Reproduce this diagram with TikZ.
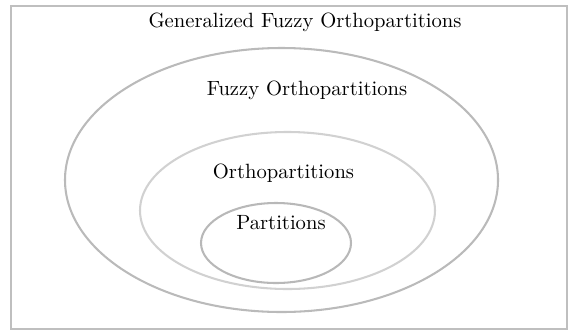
\documentclass[tikz,border=0pt]{standalone}
\begin{document}
\begin{tikzpicture}[x=0.485pt,y=-0.485pt,
  setline/.style={line width=1pt},
  lbl/.style={inner sep=0pt, font=\fontsize{10}{12}\selectfont}]
\useasboundingbox (0,0) rectangle (578,332);
\draw[setline, draw=black!25] (11,6) rectangle (567,329) coordinate (frame);
\draw[setline, draw=black!27] (281.5,180) ellipse [x radius=216.5, y radius=132];
\draw[setline, draw=black!18] (287.5,210.5) ellipse [x radius=147.5, y radius=78.5];
\draw[setline, draw=black!28] (276,243) ellipse [x radius=75, y radius=40];
\node[lbl] (g) at (305,22) {Generalized Fuzzy Orthopartitions};
\node[lbl] (f) at (307,90) {Fuzzy Orthopartitions};
\node[lbl] (o) at (283.5,173) {Orthopartitions};
\node[lbl] (p) at (281,223) {Partitions};
\end{tikzpicture}
\end{document}
